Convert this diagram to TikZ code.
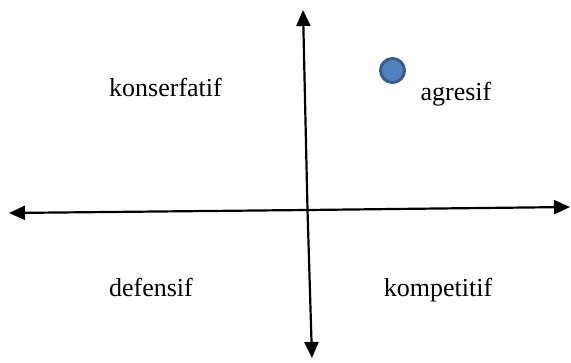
\documentclass[tikz,border=0pt]{standalone}
\usepackage{fontspec}
\setmainfont{Liberation Serif}
\usetikzlibrary{arrows.meta}
\definecolor{dotfill}{HTML}{4F81BD}
\definecolor{dotline}{HTML}{385D8A}
\begin{document}
\begin{tikzpicture}[x=1pt,y=-1pt,
  axis/.style={line width=2.2pt,-{Triangle[length=16pt,width=14pt]}},
  lbl/.style={anchor=base,inner sep=0pt,font=\fontsize{26}{30}\selectfont}]
\useasboundingbox (0,0) rectangle (571,363);
\coordinate (L) at (9,213);
\coordinate (R) at (570,207);
\coordinate (T) at (303,10);
\coordinate (B) at (312,358);
\coordinate (M) at (307.5,210);
\draw[axis] (M) -- (L);
\draw[axis] (M) -- (R);
\draw[axis] (M) -- (T);
\draw[axis] (M) -- (B);
\node[lbl] (kon) at (165.5,97) {konserfatif};
\node[lbl] (agr) at (456,101) {agresif};
\node[lbl] (def) at (151,297) {defensif};
\node[lbl] (kom) at (438,297) {kompetitif};
\node[circle,draw=dotline,fill=dotfill,line width=3pt,minimum size=24pt,inner sep=0pt] (dot) at (392.5,70.5) {};
\end{tikzpicture}
\end{document}
